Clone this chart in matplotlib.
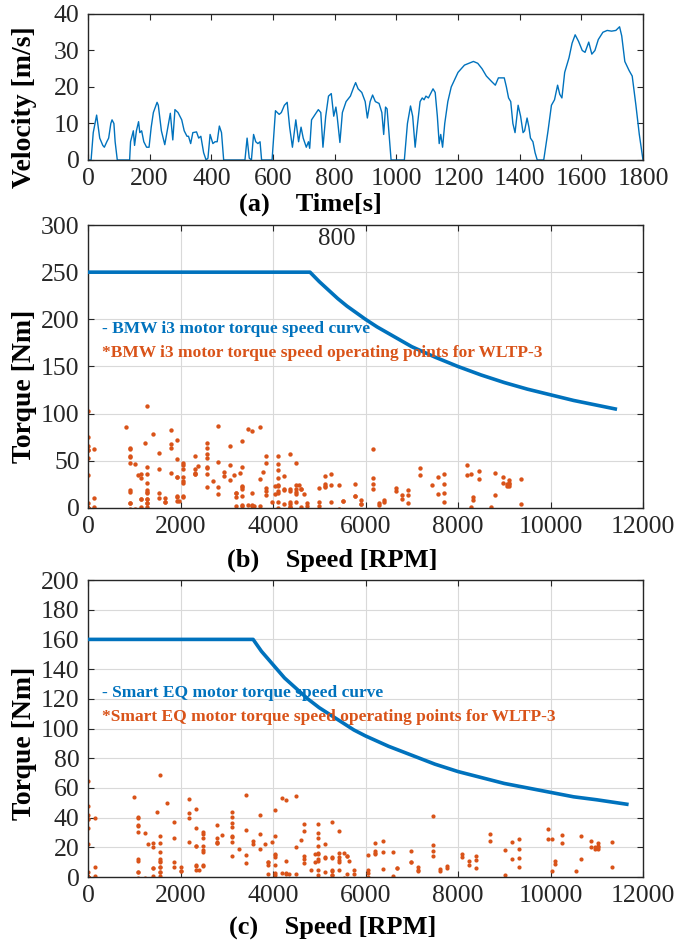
import matplotlib
matplotlib.use("Agg")
import matplotlib.pyplot as plt
import numpy as np

plt.rcParams['font.family'] = ['Liberation Serif', 'DejaVu Serif']

# WLTP class 3 velocity trace
time_s = [0, 10, 17, 28, 38, 48, 53, 61, 67, 74, 78, 84, 88, 95, 135, 138, 147, 151, 157, 164,
          168, 174, 181, 190, 198, 205, 212, 224, 228, 238, 249, 259, 267, 275, 282, 292, 304, 312,
          321, 326, 333, 340, 352, 359, 366, 375, 383, 389, 396, 405, 412, 419, 426, 433, 440, 509,
          516, 523, 530, 537, 544, 551, 558, 563, 597, 608, 620, 627, 637, 646, 654, 663, 674, 683,
          691, 698, 708, 715, 719, 725, 737, 747, 755, 762, 771, 780, 789, 797, 804, 808, 817, 825,
          837, 851, 862, 868, 876, 888, 899, 906, 915, 923, 932, 944, 953, 959, 965, 970, 983, 1026,
          1036, 1046, 1053, 1061, 1069, 1077, 1084, 1090, 1096, 1104, 1110, 1119, 1126, 1133, 1139,
          1144, 1150, 1157, 1167, 1178, 1200, 1221, 1250, 1264, 1278, 1292, 1309, 1321, 1331, 1350,
          1357, 1364, 1371, 1378, 1385, 1395, 1403, 1411, 1416, 1424, 1430, 1435, 1443, 1450, 1457,
          1478, 1492, 1503, 1513, 1523, 1530, 1537, 1546, 1560, 1570, 1580, 1591, 1603, 1612, 1624,
          1634, 1644, 1655, 1670, 1684, 1698, 1712, 1724, 1731, 1741, 1755, 1765, 1777, 1788, 1800]
velocity = [0, 0, 7.5, 12.3, 6, 4, 3.5, 5, 6, 10, 11, 10, 5, 0, 0, 5, 8, 4, 8, 10.5,
            7.5, 8, 5, 3.5, 3.5, 9, 13, 15.8, 15, 8, 4.2, 9, 12.8, 5.5, 13.8, 13, 11, 8,
            6.5, 6.5, 4.5, 7.5, 7.7, 6, 6.5, 2, 0, 0.5, 7, 4.5, 5, 5, 9.3, 7.5, 0, 0,
            6, 0.5, 0, 7, 5, 4.5, 5, 0, 0, 13.5, 12.5, 13, 15, 15.8, 9, 3.5, 11, 5,
            9, 6, 3.5, 5, 3.2, 11, 12.5, 13.8, 13, 3.5, 12, 17.5, 18.2, 12, 14.5, 12, 4.8, 13,
            16, 17.5, 20, 21.2, 19.5, 18.5, 16, 11.5, 16, 17.8, 16, 15.5, 13, 7, 14.5, 14, 0, 0,
            10, 14.8, 12, 3.5, 10, 16, 17, 16.5, 17.5, 17, 18, 19.5, 18.5, 12, 4.5,
            7, 3.5, 10, 16, 20, 24, 26, 27, 26.5, 25, 23, 21.5, 20.5, 22.5, 22.5,
            20, 17, 16, 10, 7.5, 15, 12, 7.5, 8, 11.5, 9, 6, 5, 2, 0,
            0, 8, 15, 16.5, 20.5, 18, 17, 24, 28, 32, 34.3, 32.5, 30, 29.5, 32.3,
            29, 30, 33, 35, 35.5, 35.3, 35.5, 36.5, 34, 27, 24.5, 23, 15, 7, 0]

# motor envelopes (b) and (c)
bmw_curve_rpm = [0, 4800, 5000, 5200, 5400, 5600, 5800, 6000, 6250, 6500, 6750, 7000, 7500,
                 8000, 8500, 9000, 9500, 10000, 10500, 11000, 11400]
bmw_curve_tq = [250, 250, 240, 231, 222, 214, 207, 200, 192, 185, 178, 171, 160,
                150, 141, 133, 126, 120, 114, 109, 105]
smart_curve_rpm = [0, 3570, 3750, 4000, 4250, 4500, 4750, 5000, 5250, 5500, 5750, 6000, 6500,
                   7000, 7500, 8000, 8500, 9000, 9500, 10000, 10500, 11000, 11650]
smart_curve_tq = [160, 160, 152, 143, 134, 127, 120, 114, 109, 104, 99, 95, 88,
                  82, 76, 71, 67, 63, 60, 57, 54, 52, 49]

# vehicle parameters: mass, rotating-mass factor, wheel radius, gear ratio, Cd, area, rolling coeff
bmw = dict(m=1440, k=1.15, r=0.36, G=9.665, cd=0.29, A=2.38, crr=0.01)
smart = dict(m=1100, k=1.15, r=0.305, G=9.922, cd=0.35, A=2.0, crr=0.01)


def operating_points(p):
    # both ends of every read segment, each with that segment's mean acceleration
    t = np.array(time_s, float)
    v = np.array(velocity, float)
    a = np.diff(v) / np.diff(t)
    vv = np.concatenate([v[:-1], v[1:]])
    aa = np.concatenate([a, a])
    f = (p['k'] * p['m'] * aa + 0.5 * 1.2 * p['cd'] * p['A'] * vv ** 2
         + (vv > 0) * p['m'] * 9.81 * p['crr'])
    tq = f * p['r'] / p['G']
    rpm = vv / p['r'] * p['G'] * 60 / (2 * np.pi)
    return rpm, tq


blue = '#0072BD'
orange = '#D95319'
frame = '#262626'

fig = plt.figure(figsize=(6.86, 9.47), dpi=100)
W, H = 686, 947


def axes_px(l, t, r, b):
    return fig.add_axes([l / W, 1 - b / H, (r - l) / W, (b - t) / H])


def style(ax):
    ax.tick_params(direction='in', top=True, right=True, labelsize=18.5, colors=frame,
                   length=4, pad=6)
    for s in ax.spines.values():
        s.set_color(frame)
        s.set_linewidth(1.0)


# (a) velocity
ax1 = axes_px(88, 14, 643, 160)
ax1.plot(time_s, velocity, color=blue, lw=1.0)
ax1.set_xlim(0, 1800)
ax1.set_ylim(0, 40)
ax1.set_xticks(range(0, 1801, 200))
ax1.set_yticks([0, 10, 20, 30, 40])
style(ax1)
ax1.set_ylabel('Velocity [m/s]', fontsize=20, fontweight='bold')
ax1.yaxis.set_label_coords(-0.092, 0.36)
ax1.set_xlabel('(a)    Time[s]', fontsize=19, fontweight='bold')
ax1.xaxis.set_label_coords(0.40, -0.22)

# (b) BMW i3
ax2 = axes_px(88, 225, 643, 508)
rpm, tq = operating_points(bmw)
ax2.scatter(rpm, tq, s=10, color=orange, linewidths=0, zorder=2)
ax2.plot(bmw_curve_rpm, bmw_curve_tq, color=blue, lw=2.6, zorder=3)
ax2.set_xlim(0, 12000)
ax2.set_ylim(0, 300)
ax2.set_xticks(range(0, 12001, 2000))
ax2.set_yticks(range(0, 301, 50))
ax2.grid(True, color='#d9d9d9', lw=0.8)
ax2.set_axisbelow(True)
style(ax2)
ax2.text(5380, 285, '800', fontsize=18, ha='center', va='center', color=frame)
ax2.text(300, 190, '- BMW i3 motor torque speed curve', color=blue, fontsize=12.5,
         fontweight='bold', va='center')
ax2.text(300, 164, '*BMW i3 motor torque speed operating points for WLTP-3', color=orange,
         fontsize=12.5, fontweight='bold', va='center')
ax2.set_ylabel('Torque [Nm]', fontsize=20, fontweight='bold')
ax2.yaxis.set_label_coords(-0.092, 0.43)
ax2.set_xlabel('(b)    Speed [RPM]', fontsize=19, fontweight='bold')
ax2.xaxis.set_label_coords(0.44, -0.145)

# (c) Smart EQ
ax3 = axes_px(88, 580, 643, 877)
rpm, tq = operating_points(smart)
ax3.scatter(rpm, tq, s=9, color=orange, linewidths=0, zorder=2)
ax3.plot(smart_curve_rpm, smart_curve_tq, color=blue, lw=2.6, zorder=3)
ax3.set_xlim(0, 12000)
ax3.set_ylim(0, 200)
ax3.set_xticks(range(0, 12001, 2000))
ax3.set_yticks(range(0, 201, 20))
ax3.grid(True, color='#d9d9d9', lw=0.8)
ax3.set_axisbelow(True)
style(ax3)
ax3.text(300, 124, '- Smart EQ motor torque speed curve', color=blue, fontsize=12.5,
         fontweight='bold', va='center')
ax3.text(300, 108, '*Smart EQ motor torque speed operating points for WLTP-3', color=orange,
         fontsize=12.5, fontweight='bold', va='center')
ax3.set_ylabel('Torque [Nm]', fontsize=20, fontweight='bold')
ax3.yaxis.set_label_coords(-0.092, 0.45)
ax3.set_xlabel('(c)    Speed [RPM]', fontsize=19, fontweight='bold')
ax3.xaxis.set_label_coords(0.44, -0.13)

fig.savefig('out.png', dpi=100)
